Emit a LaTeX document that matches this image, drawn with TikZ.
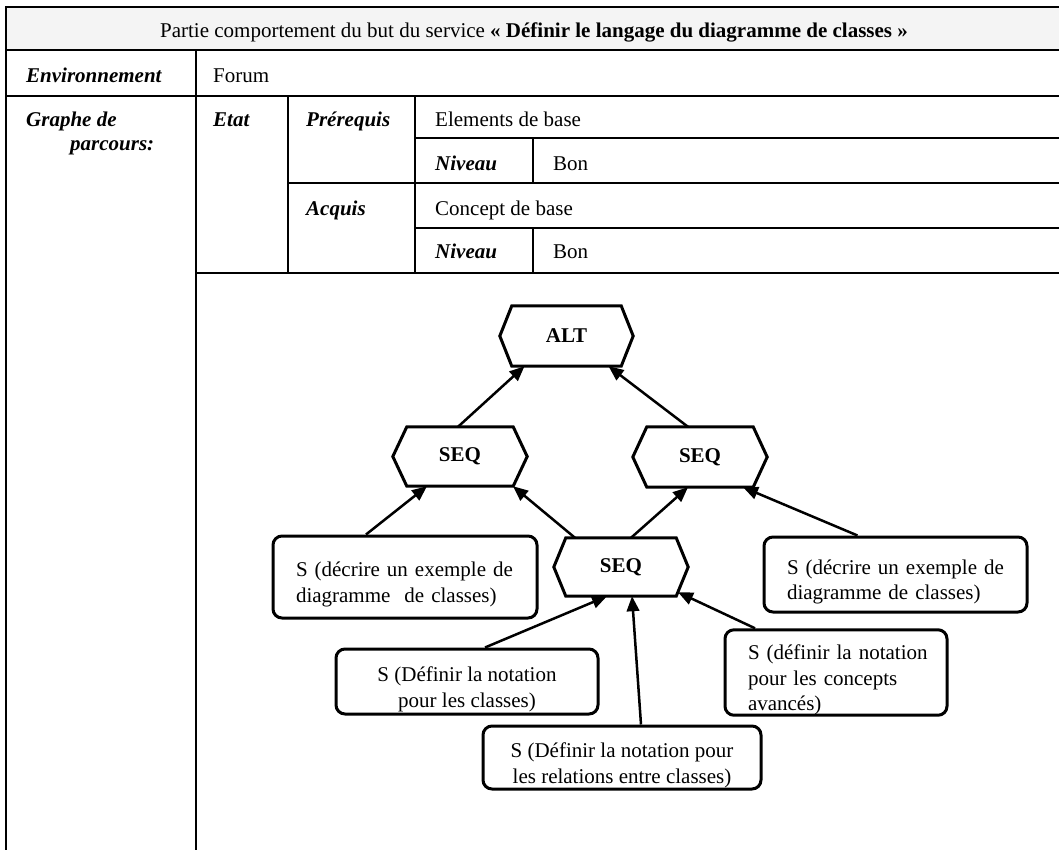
\documentclass[tikz,border=0pt]{standalone}
\usepackage{fontspec}
\setmainfont{Liberation Serif}
\usetikzlibrary{arrows.meta,calc}
\definecolor{titlegray}{HTML}{F4F4F4}
\newcommand{\topstrut}{\rule{0pt}{30pt}}
\begin{document}
\begin{tikzpicture}[x=1pt,y=-1pt,
  every node/.style={font=\fontsize{21}{25}\selectfont},
  grid/.style={line width=2.5pt, black},
  lab/.style={anchor=base west, inner sep=0pt},
  hexnode/.style={draw=none, font=\fontsize{21}{25}\selectfont\bfseries, inner sep=0pt},
  hexline/.style={line width=3pt, line join=miter},
  sbox/.style={draw, line width=3pt, rounded corners=9pt, inner ysep=0pt, font=\fontsize{21}{25.5}\selectfont},
  arr/.style={line width=2.5pt, -{Triangle[length=15pt,width=12.5pt]}},
]
\useasboundingbox (0,0) rectangle (1059,849);
\fill[titlegray] (6,7) rectangle (1065,50);
% table grid
\draw[grid] (1065,7) -- (6,7) -- (6,855);
\draw[grid] (6,50) -- (1065,50);
\draw[grid] (6,96) -- (1065,96);
\draw[grid] (196,50) -- (196,855);
\draw[grid] (288,96) -- (288,273);
\draw[grid] (415,96) -- (415,273);
\draw[grid] (415,138) -- (1065,138);
\draw[grid] (288,183) -- (1065,183);
\draw[grid] (415,228) -- (1065,228);
\draw[grid] (196,273) -- (1065,273);
\draw[grid] (533,138) -- (533,183);
\draw[grid] (533,228) -- (533,273);
% table texts
\node[anchor=base, inner sep=0pt] (title) at (534,37) {Partie comportement du but du service \textbf{« Définir le langage du diagramme de classes »}};
\node[lab] (env) at (26,82) {\textbf{\textit{Environnement}}};
\node[lab] (forum) at (213,82) {Forum};
\node[lab] (graphe) at (26,126) {\textbf{\textit{Graphe de}}};
\node[lab] (parcours) at (70,150) {\textbf{\textit{parcours:}}};
\node[lab] (etat) at (213,126) {\textbf{\textit{Etat}}};
\node[lab] (prereq) at (306,126) {\textbf{\textit{Prérequis}}};
\node[lab] (acquis) at (306,215) {\textbf{\textit{Acquis}}};
\node[lab] (elem) at (435,126) {Elements de base};
\node[lab] (niv1) at (435,170) {\textbf{\textit{Niveau}}};
\node[lab] (bon1) at (553,170) {Bon};
\node[lab] (concept) at (435,215) {Concept de base};
\node[lab] (niv2) at (435,258) {\textbf{\textit{Niveau}}};
\node[lab] (bon2) at (553,258) {Bon};
% hexagon nodes
\node[hexnode, minimum width=133, minimum height=60] (alt) at (566.5,336) {ALT};
\node[hexnode, minimum width=134, minimum height=59] (seqL) at (460,456.5) {SEQ};
\node[hexnode, minimum width=134, minimum height=60] (seqR) at (700,457) {SEQ};
\node[hexnode, minimum width=134, minimum height=58] (seqM) at (621,567) {SEQ};
\foreach \n/\d in {alt/12,seqL/14,seqR/14,seqM/12}
  \draw[hexline] ([xshift=\d]\n.north west) -- ([xshift=-\d]\n.north east) -- (\n.east)
     -- ([xshift=-\d]\n.south east) -- ([xshift=\d]\n.south west) -- (\n.west) -- cycle;
% service boxes
\node[sbox, text width=218, inner xsep=23, align=left, minimum height=82] (boxL) at (405,577)
  {\topstrut\mbox{S (décrire un exemple de}\\\mbox{diagramme \ de classes)}};
\node[sbox, text width=217, inner xsep=23, align=left, minimum height=75] (boxR) at (895.5,574.5)
  {\topstrut\mbox{S (décrire un exemple de}\\\mbox{diagramme de classes)}};
\node[sbox, minimum width=262, minimum height=65, align=center] (boxCl) at (467,681.5)
  {\topstrut S (Définir la notation\\pour les classes)};
\node[sbox, text width=176, inner xsep=23, align=left, minimum height=81] (boxCon) at (836,672.5)
  {\topstrut\mbox{S (définir la notation}\\\mbox{pour les concepts}\\\mbox{avancés)}};
\node[sbox, minimum width=278, minimum height=63, align=center] (boxRel) at (622,757.5)
  {\topstrut S (Définir la notation pour\\les relations entre classes)};
% connectors
\draw[arr] ([xshift=-2]seqL.north) -- ([xshift=-42]alt.south);
\draw[arr] ([xshift=-12]seqR.north) -- ([xshift=42]alt.south);
\draw[arr] ([xshift=-39]boxL.north) -- ([xshift=-33]seqL.south);
\draw[arr] ([xshift=-46]seqM.north) -- ([xshift=53]seqL.south);
\draw[arr] ([xshift=10]seqM.north) -- ([xshift=-12]seqR.south);
\draw[arr] ([xshift=-38]boxR.north) -- ([xshift=43]seqR.south);
\draw[arr] ([xshift=18]boxCl.north) -- ([xshift=-14]seqM.south);
\draw[arr] ([xshift=19]boxRel.north) -- ([xshift=11]seqM.south);
\draw[arr] ([xshift=-81]boxCon.north) -- ([xshift=57,yshift=4]seqM.south);
\end{tikzpicture}
\end{document}
